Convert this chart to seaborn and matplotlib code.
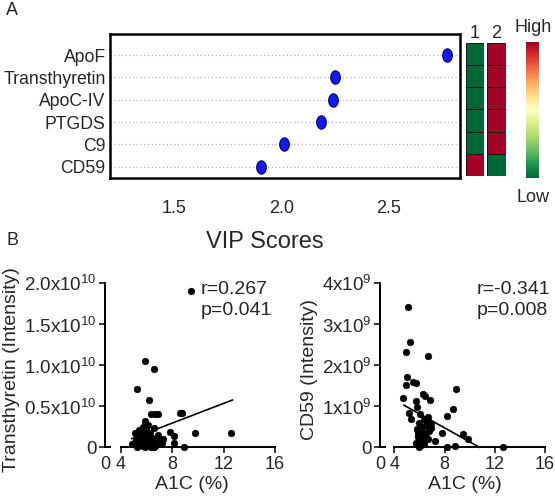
import matplotlib
matplotlib.use("Agg")
import matplotlib.pyplot as plt
from matplotlib.path import Path
import numpy as np
import pandas as pd
import seaborn as sns

# Panel A: VIP scores and group heat map
proteins = ["ApoF", "Transthyretin", "ApoC-IV", "PTGDS", "C9", "CD59"]
vip_scores = [2.775, 2.252, 2.240, 2.188, 2.012, 1.908]
group1_level = [0, 0, 0, 0, 0, 1]
group2_level = [1, 1, 1, 1, 1, 0]
group_labels = ["1", "2"]
vip_ticks = [1.5, 2.0, 2.5]

# Panel B left: Transthyretin vs A1C (intensity in units of 1e10)
tt_a1c = [9.45, 5.85, 6.6, 5.3, 6.2, 6.35, 6.7, 6.9, 8.6, 8.8, 9.8, 12.6, 7.8, 8.15, 8.15,
          8.9, 7.3, 5.85, 6.15, 6.6, 5.1, 5.45, 5.75, 6.0, 6.3, 4.85, 5.0, 5.2, 5.4, 5.6,
          5.8, 5.95, 6.1, 6.25, 6.45, 6.6, 6.8, 7.0, 7.2, 5.3, 5.5, 5.7, 5.9, 6.05, 6.2,
          6.4, 6.55, 6.9, 5.65, 6.0, 6.35, 5.25, 5.8, 6.15, 6.7, 7.05, 5.55, 5.9]
tt_int = [1.90, 1.05, 0.955, 0.71, 0.58, 0.41, 0.41, 0.41, 0.42, 0.42, 0.17, 0.17, 0.19, 0.14, 0.06,
          0.0, 0.10, 0.32, 0.27, 0.24, 0.17, 0.21, 0.25, 0.20, 0.18, 0.04, 0.06, 0.10, 0.03, 0.14,
          0.12, 0.16, 0.08, 0.02, 0.11, 0.05, 0.09, 0.12, 0.05, 0.0, 0.07, 0.02, 0.0, 0.13, 0.03,
          0.06, 0.01, 0.15, 0.09, 0.22, 0.0, 0.02, 0.05, 0.10, 0.02, 0.07, 0.18, 0.11]
tt_fit_x = [4.85, 12.7]
tt_fit_y = [0.107, 0.578]
tt_yticks = [0, 0.5, 1.0, 1.5, 2.0]
tt_yticklabels = ["0", "0.5x10$^{\\mathregular{10}}$", "1.0x10$^{\\mathregular{10}}$",
                  "1.5x10$^{\\mathregular{10}}$", "2.0x10$^{\\mathregular{10}}$"]

# Panel B right: CD59 vs A1C (intensity in units of 1e9)
cd_a1c = [5.05, 5.25, 4.93, 6.66, 5.04, 4.93, 5.51, 5.73, 8.89, 4.72, 6.26, 6.44, 6.84, 5.73, 5.78,
          5.2, 5.33, 8.65, 8.17, 6.05, 6.71, 7.77, 9.5, 9.84, 8.17, 8.86, 12.68, 7.24, 5.97, 6.39,
          5.8, 5.9, 6.0, 6.1, 6.2, 5.85, 5.95, 6.05, 6.15, 6.3, 6.5, 6.6, 6.8, 6.9, 5.75,
          5.9, 6.0, 6.1, 6.25, 6.45, 6.7, 6.95, 5.85, 6.0, 6.15, 6.35, 6.55, 6.75, 5.95, 6.05,
          6.2, 6.4]
cd_int = [3.42, 2.56, 2.33, 2.22, 1.71, 1.53, 1.58, 1.57, 1.41, 1.20, 1.30, 1.24, 1.16, 1.14, 0.98,
          0.85, 0.69, 0.94, 0.77, 0.81, 0.73, 0.34, 0.33, 0.20, 0.02, 0.04, 0.02, 0.16, 0.02, 0.08,
          0.45, 0.38, 0.30, 0.42, 0.50, 0.25, 0.18, 0.12, 0.35, 0.28, 0.55, 0.62, 0.40, 0.48, 0.10,
          0.05, 0.60, 0.22, 0.15, 0.33, 0.20, 0.58, 0.32, 0.40, 0.05, 0.70, 0.25, 0.45, 0.15, 0.28,
          0.10, 0.36]
cd_fit_x = [4.75, 10.8]
cd_fit_y = [1.03, 0.0]
cd_yticks = [0, 1, 2, 3, 4]
cd_yticklabels = ["0", "1x10$^{\\mathregular{9}}$", "2x10$^{\\mathregular{9}}$",
                  "3x10$^{\\mathregular{9}}$", "4x10$^{\\mathregular{9}}$"]

a1c_ticks = [4, 8, 12, 16]
stats_tt = ["r=0.267", "p=0.041"]
stats_cd = ["r=-0.341", "p=0.008"]

sns.set_style("ticks")
plt.rcParams["font.family"] = ["Liberation Sans", "DejaVu Sans"]
plt.rcParams["mathtext.fontset"] = "custom"
plt.rcParams["mathtext.rm"] = "Liberation Sans"

fig = plt.figure(figsize=(5.55, 4.99), dpi=100)

# ---- Panel A: VIP dot plot
ax_vip = fig.add_axes([0.198, 0.6433, 0.6306, 0.2886])
t = np.linspace(0, 2 * np.pi, 40)
ellipse = Path(np.column_stack([0.72 * np.cos(t), np.sin(t)]), closed=True)
vip_df = pd.DataFrame({"protein": proteins, "vip": vip_scores})
sns.stripplot(data=vip_df, x="vip", y="protein", order=proteins, jitter=False,
              marker=ellipse, size=9.6, color="#1717f0", edgecolor="#000070",
              linewidth=0.8, ax=ax_vip, zorder=3)
ax_vip.set_xlim(1.2, 2.835)
ax_vip.set_ylim(5.5, -0.94)
ax_vip.set_xticks(vip_ticks)
ax_vip.set_xticklabels([f"{v:.1f}" for v in vip_ticks])
ax_vip.set_xlabel("")
ax_vip.set_ylabel("")
ax_vip.grid(axis="y", linestyle=(0, (1, 2)), color="#b5b5b5", linewidth=0.9)
ax_vip.grid(axis="x", visible=False)
ax_vip.tick_params(axis="x", length=0, pad=16, labelsize=13)
ax_vip.tick_params(axis="y", length=0, pad=3, labelsize=12.7)
for sp in ax_vip.spines.values():
    sp.set_visible(True)
    sp.set_color("black")
    sp.set_linewidth(1.8)
fig.text(0.477, 0.515, "VIP Scores", ha="center", va="center", fontsize=17)

# heat map columns
for level, label, rect in [(group1_level, group_labels[0], [0.8396, 0.6473, 0.0324, 0.2675]),
                           (group2_level, group_labels[1], [0.8775, 0.6473, 0.0342, 0.2675])]:
    ax_h = fig.add_axes(rect)
    sns.heatmap(pd.DataFrame({label: level}), cmap="RdYlGn_r", vmin=0, vmax=1, cbar=False,
                linewidths=0.7, linecolor="#1a1a1a", xticklabels=False, yticklabels=False, ax=ax_h)
    ax_h.set_xlabel("")
    ax_h.set_ylabel("")
    ax_h.set_title(label, fontsize=13, pad=3)

# colour scale bar
ax_cb = fig.add_axes([0.9477, 0.6433, 0.0234, 0.2725])
cb = fig.colorbar(plt.cm.ScalarMappable(cmap="RdYlGn_r"), cax=ax_cb)
cb.outline.set_visible(False)
cb.set_ticks([])
fig.text(0.960, 0.944, "High", ha="center", va="center", fontsize=13)
fig.text(0.961, 0.605, "Low", ha="center", va="center", fontsize=13)

fig.text(0.022, 0.978, "A", ha="center", va="center", fontsize=13)
fig.text(0.022, 0.519, "B", ha="center", va="center", fontsize=13)


# ---- Panel B scatter plots
def scatter_panel(rect, a1c, inten, fit_x, fit_y, yticks, yticklabels, ylab, stats, stats_x, xleft, ytop):
    ax = fig.add_axes(rect)
    sns.scatterplot(x=a1c, y=inten, color="black", s=24, edgecolor="black", linewidth=0.3,
                    ax=ax, clip_on=False, zorder=3)
    sns.lineplot(x=fit_x, y=fit_y, color="black", linewidth=1.2, ax=ax)
    ax.set_xlim(xleft, 16.3)
    ax.set_ylim(-0.05 * ytop, ytop)
    ax.spines["top"].set_visible(False)
    ax.spines["right"].set_visible(False)
    ax.spines["left"].set_bounds(0, ytop)
    ax.spines["bottom"].set_position(("data", 0))
    ax.spines["bottom"].set_bounds(a1c_ticks[0], a1c_ticks[-1])
    for sp in ("left", "bottom"):
        ax.spines[sp].set_linewidth(1.4)
        ax.spines[sp].set_color("black")
    # short stub of the broken x axis next to the y axis
    ax.plot([xleft, xleft + 0.45], [0, 0], color="black", linewidth=1.4,
            solid_capstyle="butt", clip_on=False)
    ax.set_xticks([xleft] + a1c_ticks)
    ax.set_xticklabels(["0"] + [str(v) for v in a1c_ticks])
    ax.xaxis.get_major_ticks()[0].tick1line.set_visible(False)
    ax.set_yticks(yticks)
    ax.set_yticklabels(yticklabels)
    ax.tick_params(axis="x", direction="out", length=4, width=1.3, pad=2, labelsize=13)
    ax.tick_params(axis="y", direction="out", length=4, width=1.3, pad=2, labelsize=13.5)
    ax.set_xlabel("A1C (%)", fontsize=14, labelpad=2)
    ax.set_ylabel(ylab, fontsize=14, labelpad=3)
    fig.text(stats_x, 0.4208, stats[0], ha="left", va="center", fontsize=14)
    fig.text(stats_x, 0.378, stats[1], ha="left", va="center", fontsize=14)
    return ax


ax_tt = scatter_panel([0.1892, 0.0868, 0.3135, 0.3461], tt_a1c, tt_int, tt_fit_x, tt_fit_y,
                      tt_yticks, tt_yticklabels, "Transthyretin (Intensity)", stats_tt, 0.362,
                      2.78, 2.0)
ax_cd = scatter_panel([0.6847, 0.0868, 0.3041, 0.3461], cd_a1c, cd_int, cd_fit_x, cd_fit_y,
                      cd_yticks, cd_yticklabels, "CD59 (Intensity)", stats_cd, 0.858,
                      2.86, 4.0)

fig.savefig("out.png", dpi=100)
